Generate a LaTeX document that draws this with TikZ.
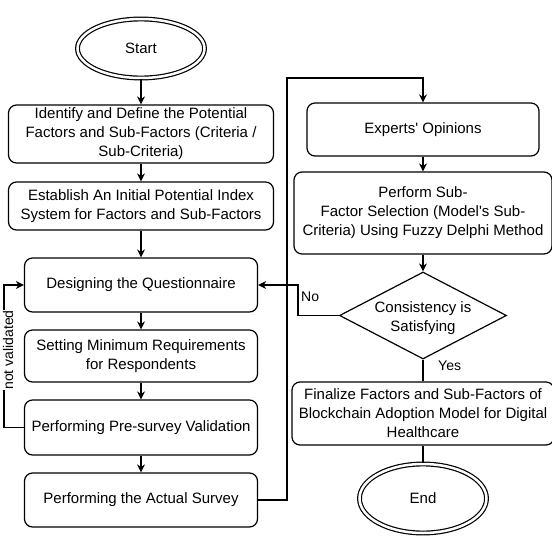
\documentclass[tikz,border=0pt]{standalone}
\usepackage{fontspec}
\setmainfont{Liberation Sans}
\usetikzlibrary{shapes.geometric,arrows.meta}
\tikzset{
  base/.style={line width=1.2pt},
  box/.style={base, draw, rounded corners=8pt, align=center, inner sep=1pt,
    font=\fontsize{15}{19}\selectfont},
  term/.style={base, draw, ellipse, double, double distance=2.5pt, inner sep=0pt,
    minimum width=127pt, font=\fontsize{15}{19}\selectfont},
  lbl/.style={font=\fontsize{14}{17}\selectfont, inner sep=1pt},
  arr/.style={base, -{Stealth[length=8pt,width=8pt,inset=2.5pt]}},
  ln/.style={base},
}
\begin{document}
\begin{tikzpicture}[x=1pt,y=-1pt]
\fill[white] (0,0) rectangle (552,536);
\useasboundingbox (0,0) rectangle (552,536);
% left column
\node[term, minimum height=59pt] (start) at (141,48.5) {Start};
\node[box, minimum width=265pt, minimum height=58pt] (b1) at (141,134)
  {Identify and Define the Potential\\Factors and Sub-Factors (Criteria /\\Sub-Criteria)};
\node[box, minimum width=265pt, minimum height=48pt] (b2) at (141,206)
  {Establish An Initial Potential Index\\System for Factors and Sub-Factors};
\node[box, minimum width=233pt, minimum height=54pt] (b3) at (141,285)
  {Designing the Questionnaire};
\node[box, minimum width=233pt, minimum height=52pt] (b4) at (141,356)
  {Setting Minimum Requirements\\for Respondents};
\node[box, minimum width=233pt, minimum height=55pt] (b5) at (141,427.5)
  {Performing Pre-survey Validation};
\node[box, minimum width=233pt, minimum height=54pt] (b6) at (141,500)
  {Performing the Actual Survey};
% right column
\node[box, minimum width=232pt, minimum height=53pt] (exp) at (423,129.5)
  {Experts\textquotesingle\ Opinions};
\node[box, minimum width=258pt, minimum height=82pt] (perf) at (423,213)
  {Perform Sub-\\Factor Selection (Model\textquotesingle s Sub-\\Criteria) Using Fuzzy Delphi Method};
\node[base, draw, diamond, minimum width=167pt, minimum height=87pt, inner sep=0pt,
  label={[align=center, font=\fontsize{15}{19}\selectfont, yshift=-3pt]center:Consistency is\\Satisfying}]
  (dia) at (423,315.5) {};
\node[box, minimum width=262pt, minimum height=63pt] (fin) at (423,413.5)
  {Finalize Factors and Sub-Factors of\\Blockchain Adoption Model for Digital\\Healthcare};
\node[term, minimum height=69pt] (end) at (423,498.5) {End};
% connectors
\draw[arr] (start) -- (b1);
\draw[arr] (b1) -- (b2);
\draw[arr] (b2) -- (b3);
\draw[arr] (b3) -- (b4);
\draw[arr] (b4) -- (b5);
\draw[arr] (b5) -- (b6);
\coordinate (cnv) at (4,285);
\draw[arr] (b5.west) -| (cnv) -- (b3.west);
\node[lbl, rotate=90, fill=white, inner sep=0.5pt] (nv) at (8.2,350) {not validated};
\coordinate (csv) at (287,78);
\draw[arr] (b6.east) -| (csv) -| (exp.north);
\draw[arr] (exp) -- (perf);
\draw[arr] (perf) -- (dia);
\coordinate (cno) at (298,285);
\draw[arr] (dia.west) -| (cno) -- (b3.east);
\node[lbl, anchor=west] (no) at (300,297) {No};
\draw[ln] (dia.south) -- (fin.north);
\node[lbl, anchor=west] (yes) at (437,366) {Yes};
\draw[ln] (fin.south) -- (end.north);
\end{tikzpicture}
\end{document}
